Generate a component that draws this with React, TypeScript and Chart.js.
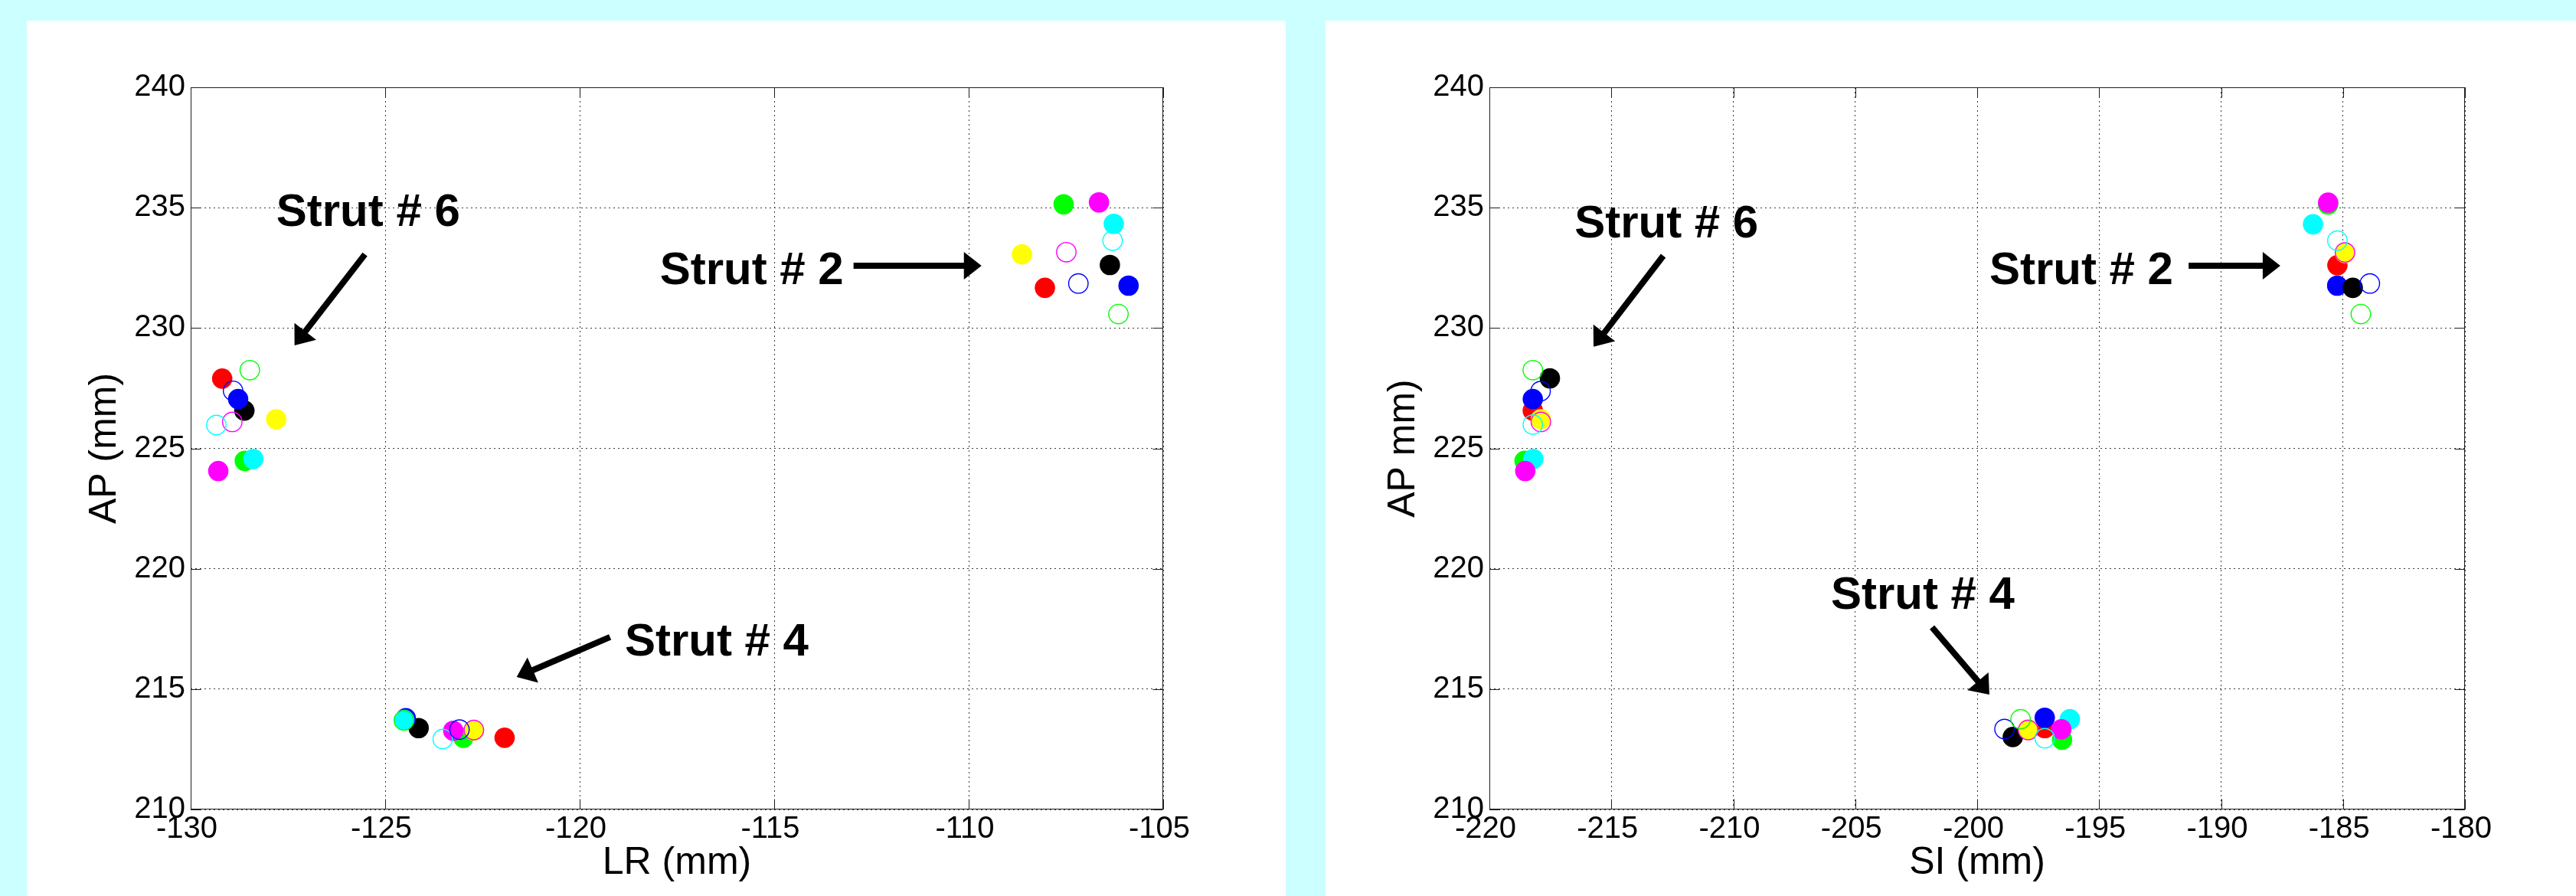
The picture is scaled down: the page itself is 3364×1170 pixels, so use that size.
import React, { useEffect, useRef } from 'react';
import { Chart, registerables } from 'chart.js';

Chart.register(...registerables);

// ---------- categories ----------
const strutNames = ['Strut # 2', 'Strut # 4', 'Strut # 6'];
const markerNames = ['red', 'green', 'blue', 'cyan', 'magenta', 'yellow', 'black', 'green open', 'blue open', 'cyan open', 'magenta open'];
const markerColors = ['#ff0000', '#00ff00', '#0000ff', '#00ffff', '#ff00ff', '#ffff00', '#000000', '#00ff00', '#0000ff', '#00ffff', '#ff00ff'];
const markerFilled = [true, true, true, true, true, true, true, false, false, false, false];

// ---------- left chart: LR vs AP (values per strut, in marker order) ----------
const lrStrut2 = [-108.04, -107.56, -105.89, -106.27, -106.65, -108.63, -106.37, -106.15, -107.18, -106.30, -107.49];
const lrStrut4 = [-121.93, -122.99, -124.47, -124.51, -123.25, -122.72, -124.14, -124.52, -123.09, -123.52, -122.72];
const lrStrut6 = [-129.19, -128.61, -128.78, -128.39, -129.29, -127.80, -128.62, -128.48, -128.91, -129.34, -128.93];
const apLrStrut2 = [231.67, 235.14, 231.76, 234.33, 235.22, 233.06, 232.62, 230.58, 231.85, 233.63, 233.15];
const apLrStrut4 = [212.98, 212.98, 213.79, 213.72, 213.27, 213.27, 213.38, 213.70, 213.32, 212.93, 213.30];
const apLrStrut6 = [227.90, 224.48, 227.05, 224.56, 224.06, 226.21, 226.57, 228.25, 227.39, 225.97, 226.10];

// ---------- right chart: SI vs AP ----------
const siStrut2 = [-185.23, -185.61, -185.24, -186.23, -185.61, -184.92, -184.60, -184.27, -183.90, -185.23, -184.92];
const siStrut4 = [-197.23, -196.52, -197.23, -196.20, -196.55, -197.91, -198.54, -198.22, -198.88, -197.23, -197.91];
const siStrut6 = [-218.22, -218.56, -218.22, -218.20, -218.53, -217.89, -217.52, -218.22, -217.90, -218.22, -217.89];
const apSiStrut2 = [232.61, 235.13, 231.76, 234.31, 235.21, 233.12, 231.67, 230.58, 231.85, 233.63, 233.14];
const apSiStrut4 = [213.38, 212.90, 213.81, 213.75, 213.33, 213.33, 213.01, 213.75, 213.34, 212.96, 213.30];
const apSiStrut6 = [226.57, 224.48, 227.05, 224.56, 224.06, 226.21, 227.91, 228.25, 227.38, 225.99, 226.10];

// ---------- tick labels ----------
const lrTicks = [-130, -125, -120, -115, -110, -105];
const siTicks = [-220, -215, -210, -205, -200, -195, -190, -185, -180];
const apTicks = [210, 215, 220, 225, 230, 235, 240];

// drawing layers (0 = on top)
const layerLR = [3, 6, 5, 4, 1, 2, 7, 0, 0, 0, 0];
const layerSI = [7, 6, 5, 4, 1, 2, 3, 0, 0, 0, 0];

// annotation placement (data coordinates)
const lrNotes = [
  { text: strutNames[2], at: [-127.80, 234.24], from: [-125.52, 233.06], to: [-127.33, 229.28] },
  { text: strutNames[0], at: [-117.94, 231.82], from: [-112.96, 232.59], to: [-109.67, 232.59] },
  { text: strutNames[1], at: [-118.84, 216.39], from: [-119.22, 217.16], to: [-121.62, 215.50] },
];
const siNotes = [
  { text: strutNames[2], at: [-216.51, 233.76], from: [-212.87, 233.00], to: [-215.73, 229.22] },
  { text: strutNames[0], at: [-199.50, 231.82], from: [-191.33, 232.59], to: [-187.57, 232.59] },
  { text: strutNames[1], at: [-206.00, 218.34], from: [-201.85, 217.57], to: [-199.50, 214.77] },
];

const FONT = '"Liberation Sans", Arial, Helvetica, sans-serif';

function drawArrow(ctx: CanvasRenderingContext2D, x0: number, y0: number, x1: number, y1: number) {
  const ang = Math.atan2(y1 - y0, x1 - x0);
  const c = Math.cos(ang), s = Math.sin(ang);
  const headLen = 23, headHalf = 18, shaft = 8;
  const bx = x1 - headLen * c, by = y1 - headLen * s;
  ctx.strokeStyle = '#000';
  ctx.fillStyle = '#000';
  ctx.lineWidth = shaft;
  ctx.lineCap = 'butt';
  ctx.beginPath();
  ctx.moveTo(x0, y0);
  ctx.lineTo(bx + c, by + s);
  ctx.stroke();
  ctx.beginPath();
  ctx.moveTo(x1, y1);
  ctx.lineTo(bx - headHalf * s, by + headHalf * c);
  ctx.lineTo(bx + headHalf * s, by - headHalf * c);
  ctx.closePath();
  ctx.fill();
}

function framePlugin(notes: any[]) {
  return {
    id: 'frameAndNotes',
    afterDraw(chart: any) {
      const { ctx, chartArea: a, scales } = chart;
      const xs = scales.x, ys = scales.y;
      ctx.save();
      // box
      ctx.strokeStyle = '#1e1e1e';
      ctx.lineWidth = 1;
      const L = Math.round(a.left) + 0.5, R = Math.round(a.right) - 0.5;
      const T = Math.round(a.top) + 0.5, B = Math.round(a.bottom) - 0.5;
      ctx.strokeRect(L, T, R - L, B - T);
      // inward ticks on all four sides
      const tl = 13;
      ctx.beginPath();
      xs.ticks.forEach((t: any) => {
        const px = Math.round(xs.getPixelForValue(t.value)) + 0.5;
        ctx.moveTo(px, B); ctx.lineTo(px, B - tl);
        ctx.moveTo(px, T); ctx.lineTo(px, T + tl);
      });
      ys.ticks.forEach((t: any) => {
        const py = Math.round(ys.getPixelForValue(t.value)) + 0.5;
        ctx.moveTo(L, py); ctx.lineTo(L + tl, py);
        ctx.moveTo(R, py); ctx.lineTo(R - tl, py);
      });
      ctx.stroke();
      // annotations
      ctx.font = `bold 60px ${FONT}`;
      ctx.textAlign = 'left';
      ctx.textBaseline = 'alphabetic';
      notes.forEach((n) => {
        ctx.fillStyle = '#000';
        ctx.fillText(n.text, xs.getPixelForValue(n.at[0]), ys.getPixelForValue(n.at[1]));
        drawArrow(
          ctx,
          xs.getPixelForValue(n.from[0]), ys.getPixelForValue(n.from[1]),
          xs.getPixelForValue(n.to[0]), ys.getPixelForValue(n.to[1])
        );
      });
      ctx.restore();
    },
  };
}

type PanelSpec = {
  left: number;
  width: number;
  plotLeft: number;
  plotRight: number;
  xVals: number[][];
  yVals: number[][];
  xTicks: number[];
  xTitle: string;
  yTitle: string;
  layers: number[];
  notes: any[];
};

const PANEL_TOP = 27;
const PANEL_H = 1143;
const PLOT_TOP = 87;
const X_AXIS_H = 113;

function Panel({ spec }: { spec: PanelSpec }) {
  const ref = useRef<HTMLCanvasElement | null>(null);
  useEffect(() => {
    if (!ref.current) return;
    const datasets = markerNames.map((name, i) => ({
      label: name,
      data: spec.xVals.map((arr, s) => ({ x: arr[i], y: spec.yVals[s][i] })),
      order: spec.layers[i],
      showLine: false,
      pointStyle: 'circle',
      pointRadius: markerFilled[i] ? 13.3 : 12.7,
      pointHoverRadius: markerFilled[i] ? 13.3 : 12.7,
      pointBorderWidth: markerFilled[i] ? 0 : 1.4,
      pointHoverBorderWidth: markerFilled[i] ? 0 : 1.4,
      backgroundColor: markerFilled[i] ? markerColors[i] : 'rgba(0,0,0,0)',
      borderColor: markerColors[i],
    }));
    const chart = new Chart(ref.current, {
      type: 'scatter',
      data: { datasets } as any,
      options: {
        responsive: false,
        animation: false,
        events: [],
        layout: { padding: { left: 0, top: PLOT_TOP, right: spec.width - spec.plotRight, bottom: 0 } },
        plugins: { legend: { display: false }, tooltip: { enabled: false } },
        scales: {
          x: {
            type: 'linear',
            position: 'bottom',
            min: spec.xTicks[0],
            max: spec.xTicks[spec.xTicks.length - 1],
            afterFit: (s: any) => { s.height = X_AXIS_H; },
            ticks: {
              stepSize: 5,
              autoSkip: false,
              maxRotation: 0,
              padding: 2,
              labelOffset: -5,
              color: '#000',
              font: { family: FONT, size: 40 },
            },
            grid: { color: '#3c3c3c', lineWidth: 1, drawTicks: false },
            border: { display: false, dash: [2, 4] },
            title: {
              display: true,
              text: spec.xTitle,
              color: '#000',
              font: { family: FONT, size: 50 },
              padding: { top: 0, bottom: 13 },
            },
          },
          y: {
            type: 'linear',
            position: 'left',
            min: apTicks[0],
            max: apTicks[apTicks.length - 1],
            afterFit: (s: any) => { s.width = spec.plotLeft; },
            ticks: {
              stepSize: 5,
              autoSkip: false,
              padding: 7,
              color: '#000',
              font: { family: FONT, size: 40 },
            },
            grid: { color: '#3c3c3c', lineWidth: 1, drawTicks: false },
            border: { display: false, dash: [2, 4] },
            title: {
              display: true,
              text: spec.yTitle,
              color: '#000',
              font: { family: FONT, size: 50 },
              padding: { top: 72, bottom: 0 },
            },
          },
        },
      } as any,
      plugins: [framePlugin(spec.notes)],
    });
    return () => chart.destroy();
  }, [spec]);
  return (
    <div
      style={{
        position: 'absolute',
        left: spec.left,
        top: PANEL_TOP,
        width: spec.width,
        height: PANEL_H,
        background: '#ffffff',
      }}
    >
      <canvas ref={ref} width={spec.width} height={PANEL_H} style={{ width: spec.width, height: PANEL_H, display: 'block' }} />
    </div>
  );
}

const leftSpec: PanelSpec = {
  left: 35,
  width: 1644,
  plotLeft: 214,
  plotRight: 1484,
  xVals: [lrStrut2, lrStrut4, lrStrut6],
  yVals: [apLrStrut2, apLrStrut4, apLrStrut6],
  xTicks: lrTicks,
  xTitle: 'LR (mm)',
  yTitle: 'AP (mm)',
  layers: layerLR,
  notes: lrNotes,
};

const rightSpec: PanelSpec = {
  left: 1731,
  width: 1633,
  plotLeft: 214,
  plotRight: 1488,
  xVals: [siStrut2, siStrut4, siStrut6],
  yVals: [apSiStrut2, apSiStrut4, apSiStrut6],
  xTicks: siTicks,
  xTitle: 'SI (mm)',
  yTitle: 'AP mm)',
  layers: layerSI,
  notes: siNotes,
};

export default function App() {
  useEffect(() => {
    document.body.style.margin = '0';
    document.body.style.overflow = 'hidden';
  }, []);
  return (
    <div
      style={{
        position: 'absolute',
        left: 0,
        top: 0,
        width: 3364,
        height: 1170,
        background: '#ccffff',
        overflow: 'hidden',
      }}
    >
      <Panel spec={leftSpec} />
      <Panel spec={rightSpec} />
    </div>
  );
}
